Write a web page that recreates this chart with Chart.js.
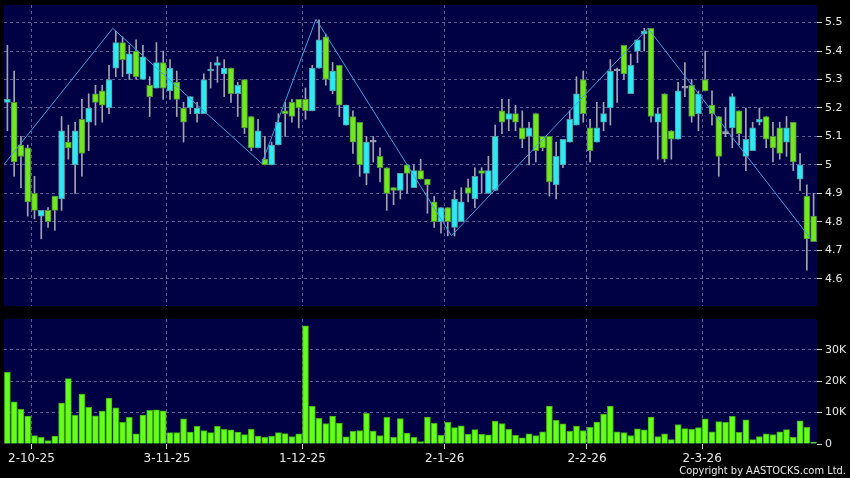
<!DOCTYPE html>
<html>
<head>
<meta charset="utf-8">
<script src="https://cdn.jsdelivr.net/npm/chart.js@4.4.1/dist/chart.umd.min.js"></script>
<style>
  html, body { margin: 0; padding: 0; background: #000; }
  #wrap { position: relative; width: 850px; height: 478px; overflow: hidden; background: #000; }
  #priceCanvas { position: absolute; left: 0; top: 0; }
  #volCanvas { position: absolute; left: 0; top: 312px; }
  #copy { position: absolute; right: 4px; top: 464px; font: 11px "DejaVu Sans Condensed", "Liberation Sans", sans-serif; color: #e8e8e8; white-space: nowrap; }
</style>
</head>
<body>
<div id="wrap">
  <canvas id="priceCanvas" width="850" height="306"></canvas>
  <canvas id="volCanvas" width="850" height="166"></canvas>
  <div id="copy">Copyright by AASTOCKS.com Ltd.</div>
</div>
<script>
// daily candles, 2 Oct 2025 .. mid Mar 2026
const opens = [
  5.22, 5.22, 5.07, 5.06, 4.90, 4.82, 4.84, 4.89, 4.88, 5.08,
  5.00, 5.16, 5.15, 5.25, 5.26, 5.20, 5.34, 5.43, 5.32, 5.40,
  5.30, 5.28, 5.27, 5.36, 5.26, 5.29, 5.20, 5.20, 5.18, 5.18,
  5.33, 5.35, 5.32, 5.34, 5.25, 5.30, 5.17, 5.06, 5.02, 5.00,
  5.07, 5.19, 5.22, 5.23, 5.23, 5.19, 5.34, 5.45, 5.26, 5.35,
  5.14, 5.17, 5.15, 4.97, 5.08, 5.03, 4.99, 4.92, 4.91, 5.00,
  4.92, 4.98, 4.95, 4.87, 4.80, 4.85, 4.78, 4.80, 4.92, 4.88,
  4.98, 4.90, 4.91, 5.19, 5.16, 5.18, 5.13, 5.10, 5.18, 5.10,
  5.10, 4.93, 5.00, 5.08, 5.14, 5.30, 5.13, 5.08, 5.15, 5.20,
  5.33, 5.42, 5.25, 5.40, 5.46, 5.48, 5.15, 5.25, 5.12, 5.09,
  5.27, 5.28, 5.18, 5.30, 5.21, 5.17, 5.11, 5.13, 5.19, 5.03,
  5.05, 5.15, 5.17, 5.10, 5.13, 5.08, 5.15, 4.95, 4.89, 4.82
];
const highs = [
  5.42, 5.33, 5.10, 5.07, 4.96, 4.84, 4.85, 4.89, 5.17, 5.14,
  5.15, 5.23, 5.25, 5.28, 5.28, 5.35, 5.47, 5.45, 5.42, 5.44,
  5.42, 5.31, 5.43, 5.40, 5.37, 5.33, 5.22, 5.24, 5.22, 5.32,
  5.36, 5.38, 5.37, 5.34, 5.29, 5.30, 5.17, 5.16, 5.10, 5.08,
  5.18, 5.22, 5.23, 5.23, 5.27, 5.35, 5.51, 5.46, 5.36, 5.35,
  5.21, 5.19, 5.15, 5.10, 5.10, 5.06, 4.99, 4.92, 4.97, 5.00,
  5.00, 5.02, 4.95, 4.89, 4.85, 4.85, 4.91, 4.92, 4.95, 4.99,
  4.99, 5.03, 5.14, 5.23, 5.23, 5.21, 5.19, 5.15, 5.18, 5.10,
  5.10, 5.08, 5.09, 5.19, 5.31, 5.33, 5.16, 5.22, 5.22, 5.37,
  5.34, 5.42, 5.39, 5.44, 5.48, 5.48, 5.20, 5.25, 5.12, 5.29,
  5.36, 5.30, 5.26, 5.40, 5.26, 5.17, 5.20, 5.25, 5.19, 5.20,
  5.15, 5.20, 5.17, 5.15, 5.15, 5.17, 5.15, 5.04, 4.93, 4.90
];
const lows = [
  5.12, 4.96, 4.92, 4.82, 4.81, 4.74, 4.78, 4.77, 4.84, 5.02,
  4.90, 4.96, 5.05, 5.14, 5.15, 5.18, 5.31, 5.31, 5.30, 5.30,
  5.30, 5.17, 5.27, 5.23, 5.23, 5.17, 5.08, 5.18, 5.15, 5.18,
  5.27, 5.29, 5.24, 5.22, 5.17, 5.11, 5.05, 5.06, 5.00, 5.00,
  5.07, 5.10, 5.15, 5.13, 5.16, 5.19, 5.34, 5.28, 5.25, 5.17,
  5.14, 5.04, 4.96, 4.93, 5.01, 4.94, 4.84, 4.86, 4.88, 4.90,
  4.92, 4.95, 4.83, 4.78, 4.76, 4.75, 4.75, 4.80, 4.87, 4.85,
  4.90, 4.90, 4.91, 5.11, 5.12, 5.12, 5.06, 5.00, 5.01, 5.05,
  4.89, 4.88, 4.99, 5.08, 5.14, 5.15, 5.01, 5.08, 5.12, 5.14,
  5.22, 5.30, 5.25, 5.36, 5.40, 5.15, 5.02, 5.01, 5.02, 5.09,
  5.24, 5.15, 5.12, 5.26, 5.14, 4.96, 5.10, 5.06, 5.07, 4.98,
  5.05, 5.14, 5.06, 5.01, 5.02, 5.03, 4.98, 4.91, 4.63, 4.73
];
const closes = [
  5.23, 5.01, 5.03, 4.87, 4.84, 4.84, 4.80, 4.84, 5.12, 5.06,
  5.12, 5.04, 5.20, 5.22, 5.21, 5.30, 5.43, 5.37, 5.39, 5.31,
  5.38, 5.24, 5.36, 5.27, 5.34, 5.23, 5.15, 5.24, 5.20, 5.30,
  5.335, 5.36, 5.34, 5.25, 5.28, 5.13, 5.06, 5.12, 5.00, 5.07,
  5.15, 5.18, 5.17, 5.20, 5.19, 5.34, 5.44, 5.30, 5.33, 5.21,
  5.21, 5.08, 5.00, 5.08, 5.08, 4.99, 4.90, 4.91, 4.97, 4.97,
  4.98, 4.95, 4.93, 4.80, 4.85, 4.80, 4.88, 4.87, 4.90, 4.96,
  4.97, 4.98, 5.10, 5.15, 5.18, 5.15, 5.09, 5.13, 5.05, 5.06,
  4.94, 5.03, 5.09, 5.16, 5.25, 5.18, 5.05, 5.13, 5.18, 5.33,
  5.33, 5.32, 5.35, 5.44, 5.47, 5.17, 5.18, 5.02, 5.09, 5.26,
  5.27, 5.17, 5.25, 5.26, 5.18, 5.03, 5.11, 5.24, 5.11, 5.09,
  5.13, 5.16, 5.09, 5.06, 5.04, 5.13, 5.01, 5.00, 4.74, 4.73
];
const volumes = [
  22800, 13400, 11000, 8900, 2700, 2100, 1100, 2500, 13000, 20800,
  9100, 15900, 11700, 9000, 10500, 14600, 11500, 6900, 8500, 3200,
  9200, 10700, 10900, 10600, 3600, 3600, 8000, 3800, 5600, 4300,
  3600, 5600, 4700, 4500, 3800, 3000, 4700, 2500, 2100, 2500,
  3600, 3300, 2400, 3200, 37600, 12000, 8200, 6500, 8900, 6700,
  2300, 4000, 4300, 9800, 4100, 2700, 8500, 2100, 8100, 3500,
  2100, 800, 8600, 6600, 2800, 6900, 5200, 5800, 3100, 4600,
  3100, 2900, 7300, 6500, 4700, 2800, 2000, 3200, 2700, 3900,
  12100, 7500, 6400, 4000, 5700, 4300, 5300, 7000, 9500, 12100,
  3900, 3600, 2700, 4800, 4500, 8600, 2400, 3200, 1400, 6200,
  4900, 4700, 5200, 8000, 3900, 7100, 6900, 8800, 3700, 7700,
  1400, 2400, 3200, 3000, 3900, 4600, 2100, 7400, 5300, 600
];

// zigzag pivots (bar index, price)
const zigIdx   = [0, 16, 38, 46, 66, 95, 119];
const zigPrice = [5.003, 5.48, 5.005, 5.512, 4.751, 5.48, 4.741];

// axes
const dateIdx    = [4, 24, 44, 65, 86, 103];
const dateLabels = ['2-10-25', '3-11-25', '1-12-25', '2-1-26', '2-2-26', '2-3-26'];
const priceTicks  = [4.6, 4.7, 4.8, 4.9, 5.0, 5.1, 5.2, 5.3, 5.4, 5.5];
const priceLabels = ['4.6', '4.7', '4.8', '4.9', '5', '5.1', '5.2', '5.3', '5.4', '5.5'];
const volTicks  = [0, 10000, 20000, 30000];
const volLabels = ['0', '10K', '20K', '30K'];

const NAVY      = '#000044';
const GRID      = '#5c5c94';
const TEXT      = '#e8e8e8';
const UP_FILL   = '#2ee8f2';
const UP_EDGE   = '#4e9ea6';
const DN_FILL   = '#72e61e';
const DN_EDGE   = '#4f8f3a';
const WICK      = '#a2a2b2';
const VOL_FILL  = '#66ff1a';
const VOL_EDGE  = '#3fae12';
const ZIG       = '#3f9fe0';
const LEAD      = 0.45;   // line / grid sit at the left edge of a bar

const N = closes.length;
const idx = closes.map((_, i) => i);

const panelBg = {
  id: 'panelBg',
  beforeDraw(chart) {
    const { ctx, chartArea: a } = chart;
    ctx.save();
    ctx.fillStyle = NAVY;
    ctx.fillRect(a.left, a.top, a.right - a.left, a.bottom - a.top);
    ctx.restore();
  }
};

function xScale(showLabels) {
  return {
    type: 'linear',
    min: -0.5,
    max: N - 0.5,
    offset: false,
    afterBuildTicks: s => { s.ticks = dateIdx.map(v => ({ value: v - LEAD })); },
    afterFit: s => { s.height = showLabels ? 34 : 0; s.paddingLeft = 0; s.paddingRight = 0; },
    ticks: {
      display: showLabels,
      autoSkip: false,
      maxRotation: 0,
      padding: 3,
      color: TEXT,
      font: { family: 'DejaVu Sans', size: 12 },
      callback: (v, i) => dateLabels[i]
    },
    grid: {
      offset: false,
      color: GRID,
      lineWidth: 1,
      drawTicks: showLabels,
      tickLength: 5,
      tickColor: '#cfcfcf',
      tickBorderDash: []
    },
    border: { display: false, dash: [3, 3] }
  };
}

function yScale(min, max, ticks, labels) {
  return {
    position: 'right',
    min: min,
    max: max,
    afterBuildTicks: s => { s.ticks = ticks.map(v => ({ value: v })); },
    afterFit: s => { s.width = 33; s.paddingTop = 0; s.paddingBottom = 0; },
    ticks: {
      padding: 3,
      color: TEXT,
      font: { family: 'DejaVu Sans', size: 11 },
      callback: (v, i) => labels[i]
    },
    grid: {
      color: c => (c.tick && c.tick.value === 0 ? 'rgba(0,0,0,0)' : GRID),
      lineWidth: 1,
      drawTicks: true,
      tickLength: 5,
      tickColor: '#cfcfcf',
      tickBorderDash: []
    },
    border: { display: false, dash: [3, 3] }
  };
}

const bodyColor = i => closes[i] > opens[i] ? UP_FILL : (closes[i] < opens[i] ? DN_FILL : WICK);
const edgeColor = i => closes[i] > opens[i] ? UP_EDGE : (closes[i] < opens[i] ? DN_EDGE : WICK);

//  Price panel
new Chart(document.getElementById('priceCanvas'), {
  type: 'bar',
  data: {
    datasets: [
      {
        type: 'line',
        data: zigIdx.map((v, k) => ({ x: v - LEAD, y: zigPrice[k] })),
        borderColor: ZIG,
        borderWidth: 1,
        pointRadius: 0,
        tension: 0,
        order: 0
      },
      {
        data: idx.map(i => ({ x: i, y: [Math.min(opens[i], closes[i]), Math.max(opens[i], closes[i])] })),
        backgroundColor: c => bodyColor(c.dataIndex),
        borderColor: c => edgeColor(c.dataIndex),
        borderWidth: 1,
        borderSkipped: false,
        barThickness: 6,
        minBarLength: 2,
        grouped: false,
        order: 1
      },
      {
        data: idx.map(i => ({ x: i, y: [lows[i], highs[i]] })),
        backgroundColor: WICK,
        borderWidth: 0,
        barThickness: 1,
        grouped: false,
        order: 2
      }
    ]
  },
  options: {
    responsive: false,
    animation: false,
    events: [],
    layout: { padding: { left: 4, top: 5, right: 0, bottom: 0 } },
    scales: {
      x: xScale(false),
      y: yScale(4.504, 5.562, priceTicks, priceLabels)
    },
    plugins: { legend: { display: false }, tooltip: { enabled: false } }
  },
  plugins: [panelBg]
});

//  Volume panel
new Chart(document.getElementById('volCanvas'), {
  type: 'bar',
  data: {
    datasets: [{
      data: idx.map(i => ({ x: i, y: volumes[i] })),
      backgroundColor: VOL_FILL,
      borderColor: VOL_EDGE,
      borderWidth: 1,
      barThickness: 6,
      grouped: false
    }]
  },
  options: {
    responsive: false,
    animation: false,
    events: [],
    layout: { padding: { left: 4, top: 7, right: 0, bottom: 0 } },
    scales: {
      x: xScale(true),
      y: yScale(0, 39800, volTicks, volLabels)
    },
    plugins: { legend: { display: false }, tooltip: { enabled: false } }
  },
  plugins: [panelBg]
});
</script>
</body>
</html>
